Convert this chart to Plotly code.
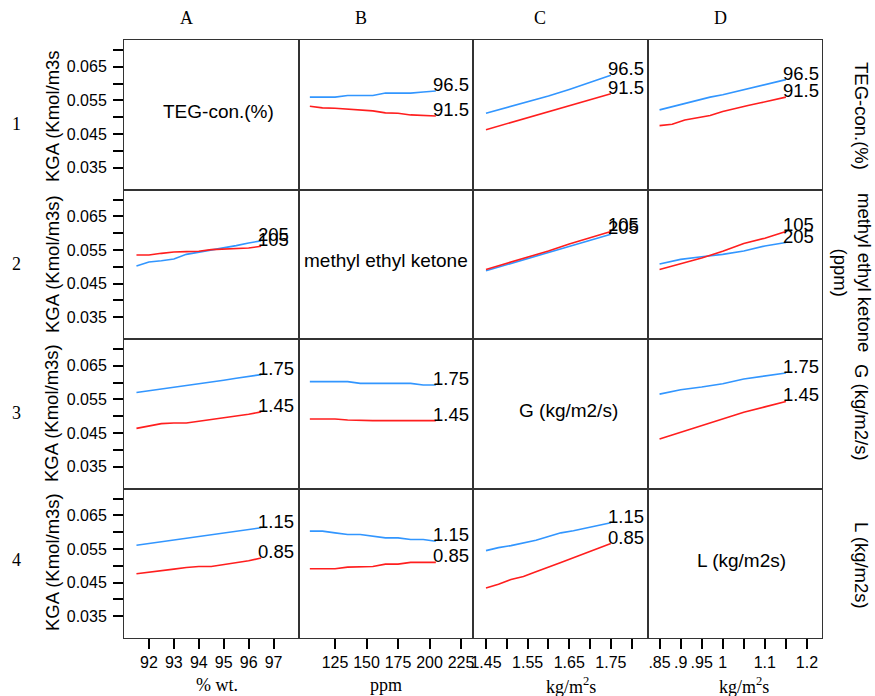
import plotly.graph_objects as go
from plotly.subplots import make_subplots

# ---------------- data ----------------
teg_x = [91.5, 92.0, 92.5, 93.0, 93.5, 94.0, 94.5, 95.0, 95.5, 96.0, 96.5]
mek_x = [105, 115, 125, 135, 145, 155, 165, 175, 185, 195, 205]
g_x7 = [1.45, 1.50, 1.55, 1.60, 1.65, 1.70, 1.75]
g_x11 = [1.45, 1.48, 1.51, 1.54, 1.57, 1.60, 1.63, 1.66, 1.69, 1.72, 1.75]
l_x7 = [0.85, 0.90, 0.95, 1.00, 1.05, 1.10, 1.15]
l_x11 = [0.85, 0.88, 0.91, 0.94, 0.97, 1.00, 1.03, 1.06, 1.09, 1.12, 1.15]

# row 1 : TEG-con. levels (blue 96.5, red 91.5)
b1_hi = [0.0560, 0.0560, 0.0560, 0.0565, 0.0565, 0.0565, 0.0572, 0.0572, 0.0572, 0.0575, 0.0578]
b1_lo = [0.0533, 0.0528, 0.0527, 0.0524, 0.0523, 0.0519, 0.0513, 0.0512, 0.0507, 0.0505, 0.0504]
c1_hi = [0.0512, 0.0529, 0.0545, 0.0563, 0.0583, 0.0604, 0.0625]
c1_lo = [0.0463, 0.0481, 0.0499, 0.0516, 0.0534, 0.0552, 0.0570]
d1_hi = [0.0522, 0.0532, 0.0540, 0.0550, 0.0560, 0.0567, 0.0576, 0.0585, 0.0592, 0.0602, 0.0612]
d1_lo = [0.0475, 0.0479, 0.0492, 0.0499, 0.0505, 0.0517, 0.0527, 0.0535, 0.0543, 0.0551, 0.0560]

# row 2 : methyl ethyl ketone levels (blue 205, red 105)
a2_hi = [0.0502, 0.0514, 0.0518, 0.0523, 0.0537, 0.0543, 0.0551, 0.0556, 0.0563, 0.0571, 0.0577]
a2_lo = [0.0535, 0.0535, 0.0540, 0.0544, 0.0545, 0.0546, 0.0551, 0.0552, 0.0553, 0.0556, 0.0561]
c2_hi = [0.0488, 0.0506, 0.0524, 0.0543, 0.0561, 0.0579, 0.0597]
c2_lo = [0.0492, 0.0510, 0.0528, 0.0547, 0.0568, 0.0587, 0.0605]
d2_hi = [0.0508, 0.0522, 0.0530, 0.0537, 0.0547, 0.0562, 0.0572]
d2_lo = [0.0492, 0.0509, 0.0526, 0.0546, 0.0569, 0.0585, 0.0605]

# row 3 : G levels (blue 1.75, red 1.45)
a3_hi = [0.0571, 0.0576, 0.0580, 0.0586, 0.0591, 0.0596, 0.0602, 0.0607, 0.0613, 0.0618, 0.0624]
a3_lo = [0.0464, 0.0471, 0.0478, 0.0480, 0.0480, 0.0485, 0.0490, 0.0495, 0.0500, 0.0506, 0.0513]
b3_hi = [0.0603, 0.0603, 0.0603, 0.0603, 0.0598, 0.0598, 0.0598, 0.0598, 0.0598, 0.0593, 0.0593]
b3_lo = [0.0492, 0.0492, 0.0492, 0.0489, 0.0487, 0.0487, 0.0487, 0.0487, 0.0487, 0.0487, 0.0487]
d3_hi = [0.0566, 0.0579, 0.0587, 0.0597, 0.0611, 0.0621, 0.0629]
d3_lo = [0.0432, 0.0452, 0.0471, 0.0492, 0.0512, 0.0528, 0.0544]

# row 4 : L levels (blue 1.15, red 0.85)
a4_hi = [0.0561, 0.0566, 0.0571, 0.0576, 0.0581, 0.0587, 0.0592, 0.0597, 0.0603, 0.0608, 0.0613]
a4_lo = [0.0476, 0.0480, 0.0485, 0.0490, 0.0495, 0.0498, 0.0498, 0.0503, 0.0508, 0.0515, 0.0523]
b4_hi = [0.0603, 0.0603, 0.0598, 0.0593, 0.0593, 0.0588, 0.0583, 0.0583, 0.0578, 0.0578, 0.0573]
b4_lo = [0.0491, 0.0491, 0.0491, 0.0496, 0.0498, 0.0498, 0.0505, 0.0505, 0.0510, 0.0510, 0.0510]
c4_hi = [0.0545, 0.0554, 0.0560, 0.0568, 0.0576, 0.0587, 0.0598, 0.0604, 0.0612, 0.0618, 0.0628]
c4_lo = [0.0434, 0.0445, 0.0459, 0.0468, 0.0482, 0.0495, 0.0510, 0.0524, 0.0538, 0.0551, 0.0566]

teg_levels = ["96.5", "91.5"]
mek_levels = ["205", "105"]
g_levels = ["1.75", "1.45"]
l_levels = ["1.15", "0.85"]

col_headers = ["A", "B", "C", "D"]
row_numbers = ["1", "2", "3", "4"]
factor_names = ["TEG-con.(%)", "methyl ethyl ketone", "G (kg/m2/s)", "L (kg/m2s)"]
right_labels = ["TEG-con.(%)", "methyl ethyl ketone<br>(ppm)", "G (kg/m2/s)", "L (kg/m2s)"]
y_titles = ["KGA (Kmol/m3s", "KGA (Kmol/m3s)", "KGA (Kmol/m3s)", "KGA (Kmol/m3s)"]
x_titles = ["% wt.", "ppm", "kg/m<sup>2</sup>s", "kg/m<sup>2</sup>s"]

y_tickvals = [0.035, 0.040, 0.045, 0.050, 0.055, 0.060, 0.065, 0.070]
y_ticktext = ["0.035", "", "0.045", "", "0.055", "", "0.065", ""]
xa_tickvals = [92, 93, 94, 95, 96, 97]
xa_ticktext = ["92", "93", "94", "95", "96", "97"]
xb_tickvals = [125, 150, 175, 200, 225]
xb_ticktext = ["125", "150", "175", "200", "225"]
xc_tickvals = [1.45, 1.50, 1.55, 1.60, 1.65, 1.70, 1.75, 1.80]
xc_ticktext = ["1.45", "", "1.55", "", "1.65", "", "1.75", ""]
xd_tickvals = [0.85, 0.90, 0.95, 1.00, 1.05, 1.10, 1.15, 1.20]
xd_ticktext = [".85", ".9", ".95", "1", "", "1.1", "", "1.2"]

# ---------------- assembly ----------------
cells = {
    (1, 2): (mek_x, b1_hi, b1_lo, teg_levels),
    (1, 3): (g_x7, c1_hi, c1_lo, teg_levels),
    (1, 4): (l_x11, d1_hi, d1_lo, teg_levels),
    (2, 1): (teg_x, a2_hi, a2_lo, mek_levels),
    (2, 3): (g_x7, c2_hi, c2_lo, mek_levels),
    (2, 4): (l_x7, d2_hi, d2_lo, mek_levels),
    (3, 1): (teg_x, a3_hi, a3_lo, g_levels),
    (3, 2): (mek_x, b3_hi, b3_lo, g_levels),
    (3, 4): (l_x7, d3_hi, d3_lo, g_levels),
    (4, 1): (teg_x, a4_hi, a4_lo, l_levels),
    (4, 2): (mek_x, b4_hi, b4_lo, l_levels),
    (4, 3): (g_x11, c4_hi, c4_lo, l_levels),
}

x_ranges = [[91, 98], [96, 234.5], [1.4188, 1.838], [0.8214, 1.2357]]
x_ticks = [(xa_tickvals, xa_ticktext), (xb_tickvals, xb_ticktext),
           (xc_tickvals, xc_ticktext), (xd_tickvals, xd_ticktext)]
y_range = [0.0285, 0.073]

BLUE = "rgb(50,150,255)"
RED = "rgb(255,30,30)"
SANS = "Liberation Sans, Arial, sans-serif"
SERIF = "Liberation Serif, Times New Roman, serif"

W, H = 875, 696
ML, MR, MT, MB = 124, 53, 40, 58
PW, PH = W - ML - MR, H - MT - MB


def px(x):
    return (x - ML) / PW


def py(y):
    return (H - MB - y) / PH


fig = make_subplots(rows=4, cols=4, horizontal_spacing=0, vertical_spacing=0)

annotations = []
for r in range(1, 5):
    for c in range(1, 5):
        if (r, c) not in cells:
            # empty diagonal cell: placeholder trace so the axes/frame are drawn
            fig.add_trace(go.Scatter(x=[None], y=[None], mode="lines", showlegend=False,
                                     hoverinfo="skip"), row=r, col=c)

for (r, c), (xs, hi, lo, levels) in cells.items():
    fig.add_trace(go.Scatter(x=xs, y=hi, mode="lines", line=dict(color=BLUE, width=1.6),
                             showlegend=False, hoverinfo="skip"), row=r, col=c)
    fig.add_trace(go.Scatter(x=xs, y=lo, mode="lines", line=dict(color=RED, width=1.6),
                             showlegend=False, hoverinfo="skip"), row=r, col=c)
    idx = (r - 1) * 4 + c
    xr = "x" if idx == 1 else f"x{idx}"
    yr = "y" if idx == 1 else f"y{idx}"
    for ys, lab in ((hi, levels[0]), (lo, levels[1])):
        annotations.append(dict(x=xs[-1], y=ys[-1], xref=xr, yref=yr, text=lab,
                                showarrow=False, xanchor="left", yanchor="middle",
                                xshift=-5, yshift=6.5,
                                font=dict(family=SANS, size=18.5, color="black")))

for r in range(1, 5):
    for c in range(1, 5):
        xt = dict(range=x_ranges[c - 1], showgrid=False, zeroline=False, showline=True,
                  mirror=True, linecolor="#333333", linewidth=1)
        if r == 4:
            xt.update(ticks="outside", ticklen=10, tickwidth=2, tickcolor="black",
                      tickvals=x_ticks[c - 1][0], ticktext=x_ticks[c - 1][1],
                      tickfont=dict(family=SANS, size=16, color="black"), showticklabels=True)
        else:
            xt.update(ticks="", showticklabels=False)
        yt = dict(range=y_range, showgrid=False, zeroline=False, showline=True,
                  mirror=True, linecolor="#333333", linewidth=1)
        if c == 1:
            yt.update(ticks="outside", ticklen=10, tickwidth=2, tickcolor="black",
                      tickvals=y_tickvals, ticktext=y_ticktext, ticklabelstandoff=3,
                      tickfont=dict(family=SANS, size=16, color="black"), showticklabels=True)
        else:
            yt.update(ticks="", showticklabels=False)
        fig.update_xaxes(row=r, col=c, **xt)
        fig.update_yaxes(row=r, col=c, **yt)

# diagonal factor names
diag_pos = [(218, 111.7), (385.5, 260), (568.5, 410), (741, 560)]
for name, (x0, y0) in zip(factor_names, diag_pos):
    annotations.append(dict(x=px(x0), y=py(y0), xref="paper", yref="paper", text=name,
                            showarrow=False, xanchor="center", yanchor="middle",
                            font=dict(family=SANS, size=19, color="black")))

# column headers
for lab, x0 in zip(col_headers, [186, 361, 540, 720]):
    annotations.append(dict(x=px(x0), y=py(18), xref="paper", yref="paper", text=lab,
                            showarrow=False, xanchor="center", yanchor="middle",
                            font=dict(family=SERIF, size=18, color="black")))

# row numbers
for lab, y0 in zip(row_numbers, [124, 264, 413, 560]):
    annotations.append(dict(x=px(16), y=py(y0), xref="paper", yref="paper", text=lab,
                            showarrow=False, xanchor="center", yanchor="middle",
                            font=dict(family=SERIF, size=18, color="black")))

# y titles
for lab, y0 in zip(y_titles, [116, 264, 413, 562]):
    annotations.append(dict(x=px(52), y=py(y0), xref="paper", yref="paper", text=lab,
                            showarrow=False, xanchor="center", yanchor="middle", textangle=-90,
                            font=dict(family=SANS, size=18.5, color="black")))

# x titles
for lab, x0 in zip(x_titles, [217, 385.5, 571, 744]):
    annotations.append(dict(x=px(x0), y=py(685), xref="paper", yref="paper", text=lab,
                            showarrow=False, xanchor="center", yanchor="middle",
                            font=dict(family=SERIF, size=18, color="black")))

# right-side factor labels
for lab, (x0, y0) in zip(right_labels, [(862, 116), (853, 272), (862, 412), (862, 565)]):
    annotations.append(dict(x=px(x0), y=py(y0), xref="paper", yref="paper", text=lab,
                            showarrow=False, xanchor="center", yanchor="middle", textangle=90,
                            font=dict(family=SANS, size=18.5, color="black")))

fig.update_layout(width=W, height=H, margin=dict(l=ML, r=MR, t=MT, b=MB),
                  paper_bgcolor="white", plot_bgcolor="white",
                  annotations=annotations, showlegend=False)

fig.write_html("out.html")
